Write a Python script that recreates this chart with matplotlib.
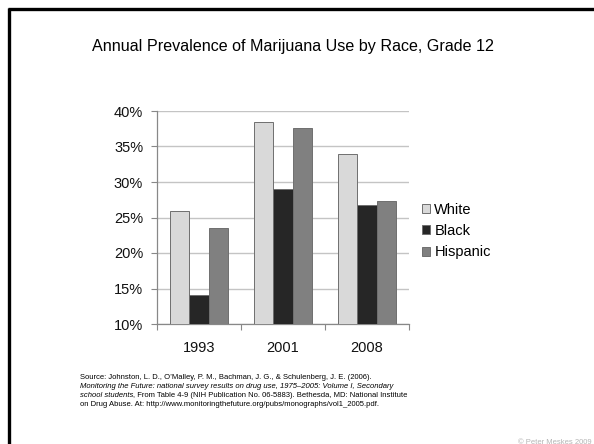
import matplotlib
matplotlib.use("Agg")
import matplotlib.pyplot as plt
from matplotlib.patches import Patch
from matplotlib.lines import Line2D
import numpy as np

years = ["1993", "2001", "2008"]
series_names = ["White", "Black", "Hispanic"]
white = [25.9, 38.5, 33.9]
black = [14.1, 29.0, 26.8]
hispanic = [23.5, 37.6, 27.3]
yticks = [10, 15, 20, 25, 30, 35, 40]
ytick_labels = ["10%", "15%", "20%", "25%", "30%", "35%", "40%"]

colors = ["#d9d9d9", "#262626", "#808080"]

plt.rcParams['font.family'] = ['Liberation Sans', 'DejaVu Sans']

W, H = 594, 444
fig = plt.figure(figsize=(W / 100, H / 100), dpi=100)
fig.patch.set_facecolor("white")

# slide border (top and left)
fig.add_artist(Line2D([7.5 / W, 1.0], [1 - 9.5 / H, 1 - 9.5 / H], color="black", lw=2.4,
                      transform=fig.transFigure, solid_capstyle="butt"))
fig.add_artist(Line2D([8.5 / W, 8.5 / W], [0, 1 - 8 / H], color="black", lw=2.4,
                      transform=fig.transFigure, solid_capstyle="butt"))

ax = fig.add_axes([157 / W, 1 - 324 / H, (409 - 157) / W, (324 - 111) / H])
x = np.arange(len(years))
bw = 0.232
for i, (vals, c, name) in enumerate(zip([white, black, hispanic], colors, series_names)):
    ax.bar(x + (i - 1) * bw, vals, width=bw, bottom=0, color=c, edgecolor="#6f6f6f",
           linewidth=0.7, label=name, zorder=3)

ax.set_ylim(10, 40)
ax.set_xlim(-0.5, 2.5)
ax.set_yticks(yticks)
ax.set_yticklabels(ytick_labels)
ax.set_xticks(x)
ax.set_xticklabels(years)
ax.set_xticks([-0.5, 0.5, 1.5, 2.5], minor=True)
ax.tick_params(axis="x", which="major", length=0, pad=12, labelsize=10.5, colors="#111111")
ax.tick_params(axis="x", which="minor", length=4, width=0.8, color="#888888", direction="out")
ax.tick_params(axis="y", length=4, width=0.8, color="#888888", pad=6, labelsize=10.5,
               labelcolor="#111111")
ax.yaxis.grid(True, color="#c4c4c4", linewidth=1.0, zorder=0)
ax.set_axisbelow(True)
for s in ["top", "right"]:
    ax.spines[s].set_visible(False)
for s in ["left", "bottom"]:
    ax.spines[s].set_color("#888888")
    ax.spines[s].set_linewidth(0.9)

handles = [Patch(facecolor=c, edgecolor="#6f6f6f", linewidth=0.7) for c in colors]
fig.legend(handles, series_names, loc="center left", bbox_to_anchor=(422 / W, 1 - 231 / H),
           frameon=False, fontsize=10.5, handlelength=0.55, handleheight=0.55,
           handletextpad=0.3, labelspacing=0.5, borderpad=0, borderaxespad=0)

fig.text(293 / W, 1 - 47 / H, "Annual Prevalence of Marijuana Use by Race, Grade 12",
         ha="center", va="center", fontsize=11.6, color="#000000")

src_x = 80 / W
fs = 5.5
fig.text(src_x, 1 - 377 / H,
         "Source: Johnston, L. D., O\u2019Malley, P. M., Bachman, J. G., & Schulenberg, J. E. (2006).",
         ha="left", va="center", fontsize=fs)
fig.text(src_x, 1 - 386 / H,
         "Monitoring the Future: national survey results on drug use, 1975\u20132005: Volume I, Secondary",
         ha="left", va="center", fontsize=fs, style="italic")
t1 = fig.text(src_x, 1 - 395 / H, "school students", ha="left", va="center", fontsize=fs,
              style="italic")
fig.canvas.draw()
bb = t1.get_window_extent()
fig.text(bb.x1 / W, 1 - 395 / H,
         ", From Table 4-9 (NIH Publication No. 06-5883). Bethesda, MD: National Institute",
         ha="left", va="center", fontsize=fs)
fig.text(src_x, 1 - 404 / H,
         "on Drug Abuse. At: http://www.monitoringthefuture.org/pubs/monographs/vol1_2005.pdf.",
         ha="left", va="center", fontsize=fs)

fig.text(592 / W, 1 - 442 / H, "\u00a9 Peter Meskes 2009", ha="right", va="center",
         fontsize=5.5, color="#b5b5b5")

fig.savefig("out.png", dpi=100, facecolor="white")
